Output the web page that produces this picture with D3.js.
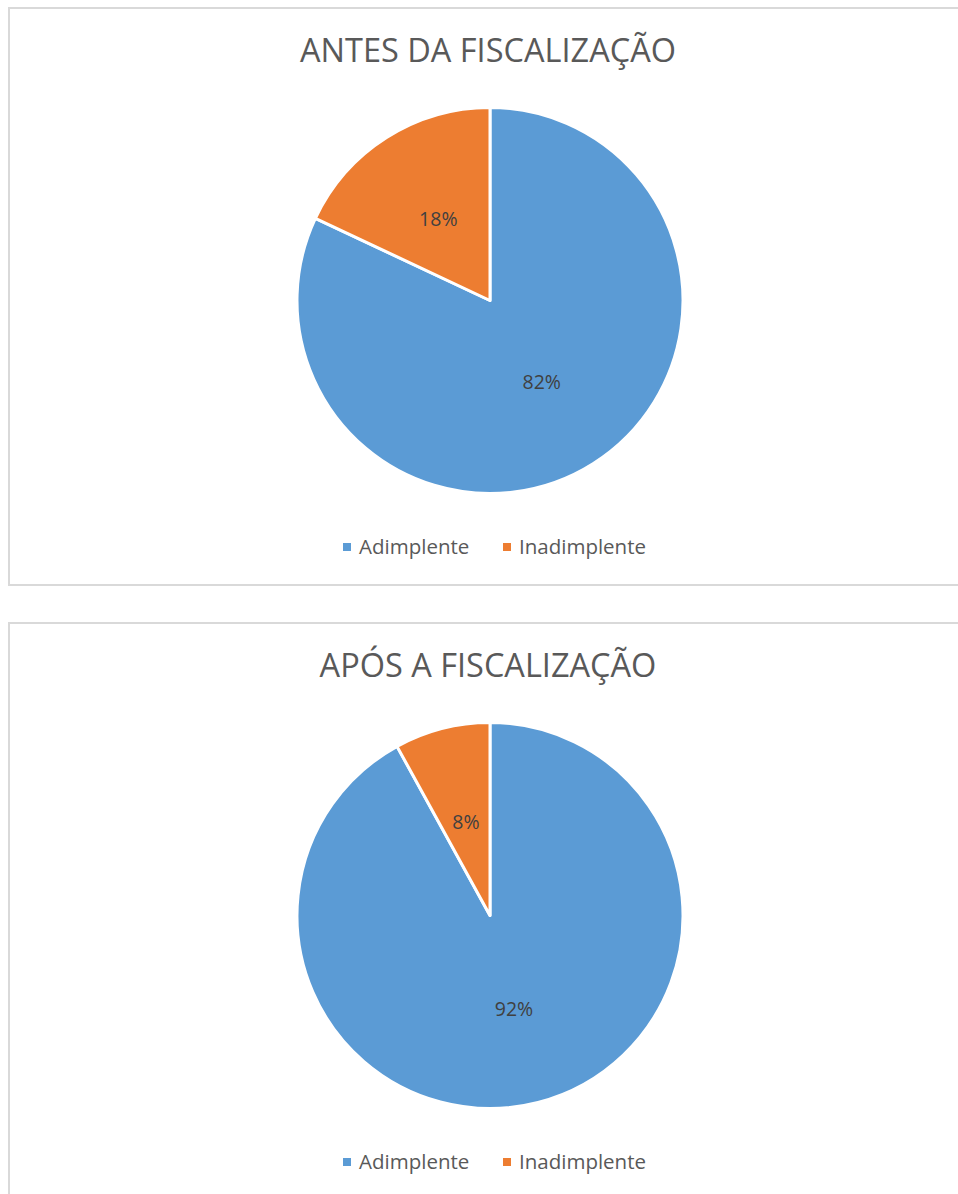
<!DOCTYPE html>
<html>
<head>
<meta charset="utf-8">
<script src="https://cdn.jsdelivr.net/npm/d3@7"></script>
<style>
  body { margin: 0; background: #fff; }
  svg { display: block; }
  text { font-family: "Open Sans", "Liberation Sans", sans-serif; }
</style>
</head>
<body>
<div id="chart"></div>
<script>
// data
var categories = ["Adimplente", "Inadimplente"];
var antesValues = [82, 18];
var aposValues = [92, 8];
var titles = ["ANTES DA FISCALIZAÇÃO", "APÓS A FISCALIZAÇÃO"];
var colors = ["#5B9BD5", "#ED7D31"];

var width = 958, height = 1194;

var svg = d3.select("#chart").append("svg")
    .attr("width", width)
    .attr("height", height);

var panels = [
    {title: titles[0], values: antesValues, top: 8, h: 577},
    {title: titles[1], values: aposValues, top: 623, h: 620}
];

var color = d3.scaleOrdinal().domain(categories).range(colors);
var radius = 193;

var pie = d3.pie()
    .sort(null)
    .value(function(d) { return d.value; });

var arc = d3.arc().innerRadius(0).outerRadius(radius);
var labelArc = d3.arc().innerRadius(0).outerRadius(radius);

panels.forEach(function(p) {
    var g = svg.append("g").attr("transform", "translate(0," + p.top + ")");

    // chart area border
    g.append("rect")
        .attr("x", 9)
        .attr("y", 0)
        .attr("width", 1000)
        .attr("height", p.h)
        .attr("fill", "#fff")
        .attr("stroke", "#d9d9d9")
        .attr("stroke-width", 2);

    g.append("text")
        .attr("x", 488)
        .attr("y", 54)
        .attr("text-anchor", "middle")
        .attr("fill", "#595959")
        .style("font-size", "32.5px")
        .text(p.title);

    var data = categories.map(function(c, i) {
        return {name: c, value: p.values[i]};
    });

    var pieG = g.append("g").attr("transform", "translate(490,292.5)");

    var arcs = pie(data);

    pieG.selectAll("path")
        .data(arcs)
        .enter().append("path")
        .attr("d", arc)
        .attr("fill", function(d) { return color(d.data.name); })
        .attr("stroke", "#fff")
        .attr("stroke-width", 3)
        .attr("stroke-linejoin", "round");

    pieG.selectAll(".lbl")
        .data(arcs)
        .enter().append("text")
        .attr("class", "lbl")
        .attr("transform", function(d) {
            return "translate(" + labelArc.centroid(d) + ")";
        })
        .attr("text-anchor", "middle")
        .attr("dy", "0.35em")
        .attr("fill", "#404040")
        .style("font-size", "19.5px")
        .text(function(d) { return d.data.value + "%"; });

    // legend
    var legendX = [343, 503];
    var leg = g.selectAll(".leg")
        .data(categories)
        .enter().append("g")
        .attr("class", "leg")
        .attr("transform", function(d, i) {
            return "translate(" + legendX[i] + "," + 539 + ")";
        });

    leg.append("rect")
        .attr("x", 0)
        .attr("y", -4)
        .attr("width", 8)
        .attr("height", 8)
        .attr("fill", function(d) { return color(d); });

    leg.append("text")
        .attr("x", 16)
        .attr("y", 0)
        .attr("dy", "0.35em")
        .attr("fill", "#595959")
        .style("font-size", "20.5px")
        .text(function(d) { return d; });
});
</script>
</body>
</html>
